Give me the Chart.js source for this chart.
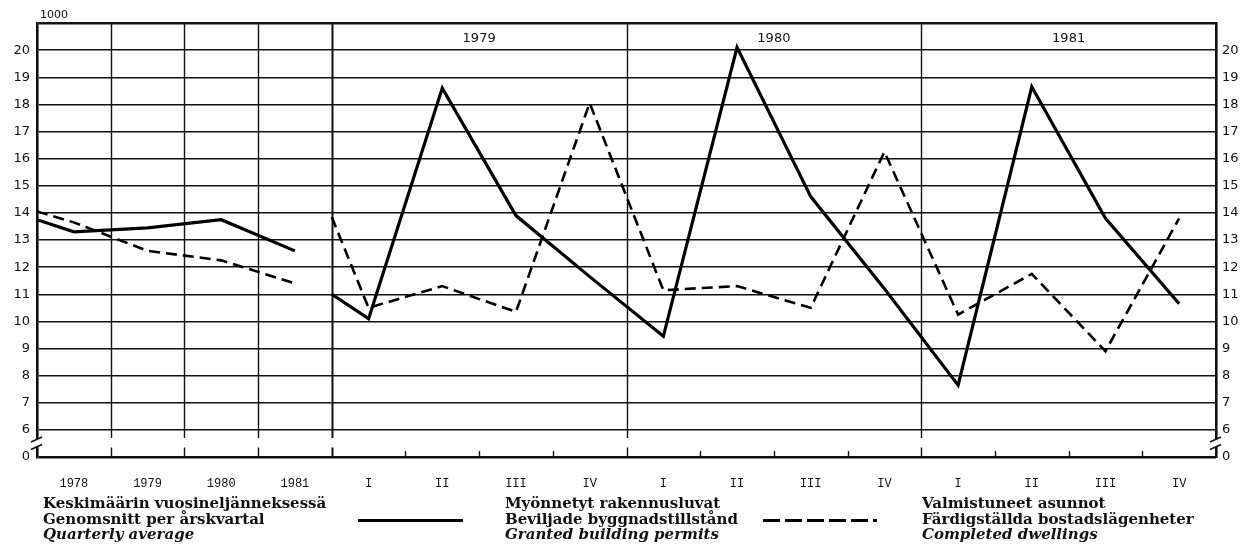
<!DOCTYPE html>
<html>
<head>
<meta charset="utf-8">
<script src="https://cdn.jsdelivr.net/npm/chart.js@4.4.0/dist/chart.umd.min.js"></script>
<style>
  html, body { margin: 0; padding: 0; background: #fff; }
</style>
</head>
<body>
<canvas id="chart" width="1245" height="548"></canvas>
<script>
// bottom tick labels
const yearLabels = ['1978', '1979', '1980', '1981'];
const quarterLabels = ['I', 'II', 'III', 'IV', 'I', 'II', 'III', 'IV', 'I', 'II', 'III', 'IV'];
const panelYears = ['1979', '1980', '1981'];

// left panel: yearly quarterly averages (first point sits on the panel edge)
const avgX = [0, 0.5, 1.5, 2.5, 3.5];
const avgPermits = [13.75, 13.3, 13.45, 13.75, 12.6];
const avgDwellings = [14.05, 13.65, 12.6, 12.25, 11.4];

// right panel: quarters 1979-1981 (first point sits on the panel edge)
const quarterX = [4, 4.5, 5.5, 6.5, 7.5, 8.5, 9.5, 10.5, 11.5, 12.5, 13.5, 14.5, 15.5];
const qPermits = [11.0, 10.1, 18.6, 13.9, 11.65, 9.45, 20.1, 14.6, 11.2, 7.65, 18.65, 13.8, 10.65];
const qDwellings = [13.85, 10.5, 11.3, 10.35, 18.05, 11.15, 11.3, 10.5, 16.25, 10.25, 11.75, 8.9, 13.8];

const legendAvg = ['Keskimäärin vuosineljänneksessä', 'Genomsnitt per årskvartal', 'Quarterly average'];
const legendPermits = ['Myönnetyt rakennusluvat', 'Beviljade byggnadstillstånd', 'Granted building permits'];
const legendDwellings = ['Valmistuneet asunnot', 'Färdigställda bostadslägenheter', 'Completed dwellings'];

const tickPos = [0.5, 1.5, 2.5, 3.5, 4.5, 5.5, 6.5, 7.5, 8.5, 9.5, 10.5, 11.5, 12.5, 13.5, 14.5, 15.5];
const tickText = yearLabels.concat(quarterLabels);
const fullLines = [1, 2, 3, 4, 8, 12];
const shortTicks = [5, 6, 7, 9, 10, 11, 13, 14, 15];

function pts(xs, ys) {
    return xs.map((x, i) => ({ x: x, y: ys[i] }));
}

function yLabel(v) {
    if (v === 5) return '0';
    if (v === 21) return '';
    return String(v);
}

const ink = '#111';

const frame = {
    id: 'frame',
    beforeDatasetsDraw(chart) {
        const { ctx, chartArea: a, scales: { x, y } } = chart;
        const yCut = y.getPixelForValue(5.7);
        const yTick = y.getPixelForValue(5.35);
        ctx.save();
        ctx.strokeStyle = ink;
        fullLines.forEach(v => {
            const px = Math.round(x.getPixelForValue(v)) + 0.5;
            ctx.lineWidth = v === 4 ? 2 : 1.4;
            ctx.beginPath();
            ctx.moveTo(px, a.top);
            ctx.lineTo(px, yCut);
            ctx.moveTo(px, yTick);
            ctx.lineTo(px, a.bottom);
            ctx.stroke();
        });
        ctx.lineWidth = 1.4;
        shortTicks.forEach(v => {
            const px = Math.round(x.getPixelForValue(v)) + 0.5;
            ctx.beginPath();
            ctx.moveTo(px, a.bottom - 6);
            ctx.lineTo(px, a.bottom);
            ctx.stroke();
        });
        ctx.fillStyle = ink;
        ctx.font = '13px "DejaVu Sans"';
        ctx.textAlign = 'center';
        ctx.textBaseline = 'middle';
        panelYears.forEach((t, i) => {
            ctx.fillText(t, x.getPixelForValue(6 + i * 4), y.getPixelForValue(20.42));
        });
        ctx.restore();
    },
    afterDraw(chart) {
        const { ctx, chartArea: a, scales: { y } } = chart;
        const yCut = y.getPixelForValue(5.7);
        const yTick = y.getPixelForValue(5.35);
        ctx.save();
        // axis breaks
        [a.left, a.right].forEach(px => {
            ctx.fillStyle = '#fff';
            ctx.fillRect(px - 3, yCut + 1, 6, yTick - yCut - 2);
            ctx.strokeStyle = ink;
            ctx.lineWidth = 1.8;
            ctx.beginPath();
            ctx.moveTo(px - 6, yCut + 4);
            ctx.lineTo(px + 5, yCut - 1);
            ctx.moveTo(px - 6, yTick + 2);
            ctx.lineTo(px + 5, yTick - 3);
            ctx.stroke();
        });
        ctx.fillStyle = ink;
        ctx.font = '11px "DejaVu Sans"';
        ctx.textAlign = 'left';
        ctx.textBaseline = 'alphabetic';
        ctx.fillText('1000', a.left + 3, a.top - 5);

        // legend
        const rows = [508, 524, 539];
        const blocks = [[43, legendAvg], [505, legendPermits], [922, legendDwellings]];
        blocks.forEach(([bx, lines]) => {
            lines.forEach((t, i) => {
                ctx.font = (i === 2 ? 'italic bold ' : 'bold ') + '15px "DejaVu Serif"';
                ctx.fillText(t, bx, rows[i]);
            });
        });
        ctx.strokeStyle = '#000';
        ctx.lineWidth = 3;
        ctx.beginPath();
        ctx.moveTo(358, 520.5);
        ctx.lineTo(463, 520.5);
        ctx.stroke();
        ctx.setLineDash([17, 5]);
        ctx.beginPath();
        ctx.moveTo(763, 520.5);
        ctx.lineTo(877, 520.5);
        ctx.stroke();
        ctx.restore();
    }
};

const solid = { borderColor: '#000', borderWidth: 3.2, pointRadius: 0, showLine: true, tension: 0, fill: false };
const dashed = { borderColor: '#000', borderWidth: 2.6, pointRadius: 0, showLine: true, tension: 0, fill: false, borderDash: [11, 6] };

new Chart(document.getElementById('chart'), {
    type: 'scatter',
    data: {
        datasets: [
            Object.assign({ label: 'avgPermits', data: pts(avgX, avgPermits) }, solid),
            Object.assign({ label: 'avgDwellings', data: pts(avgX, avgDwellings) }, dashed),
            Object.assign({ label: 'qPermits', data: pts(quarterX, qPermits) }, solid),
            Object.assign({ label: 'qDwellings', data: pts(quarterX, qDwellings) }, dashed)
        ]
    },
    options: {
        responsive: false,
        animation: false,
        layout: { padding: { top: 23, left: 0, right: 0, bottom: 0 } },
        plugins: { legend: { display: false }, tooltip: { enabled: false } },
        scales: {
            x: {
                type: 'linear',
                min: 0,
                max: 16,
                afterBuildTicks: scale => { scale.ticks = tickPos.map(v => ({ value: v })); },
                afterFit: scale => { scale.height = 91; },
                grid: { display: false },
                border: { display: false },
                ticks: {
                    autoSkip: false,
                    maxRotation: 0,
                    padding: 12,
                    color: ink,
                    font: { family: 'Liberation Mono', size: 12 },
                    callback: (v, i) => tickText[i]
                }
            },
            y: {
                type: 'linear',
                position: 'left',
                min: 5,
                max: 21,
                afterFit: scale => { scale.width = 37; },
                grid: {
                    color: ink,
                    drawTicks: false,
                    lineWidth: c => (c.tick.value === 5 || c.tick.value === 21) ? 2.6 : 1.4
                },
                border: { display: true, color: ink, width: 2.6 },
                ticks: {
                    stepSize: 1,
                    padding: 7,
                    color: ink,
                    font: { family: 'DejaVu Sans', size: 13 },
                    callback: yLabel
                }
            },
            y2: {
                type: 'linear',
                position: 'right',
                min: 5,
                max: 21,
                afterFit: scale => { scale.width = 29; },
                grid: { drawOnChartArea: false, drawTicks: false },
                border: { display: true, color: ink, width: 2.6 },
                ticks: {
                    stepSize: 1,
                    padding: 6,
                    color: ink,
                    font: { family: 'DejaVu Sans', size: 13 },
                    callback: yLabel
                }
            }
        }
    },
    plugins: [frame]
});
</script>
</body>
</html>
